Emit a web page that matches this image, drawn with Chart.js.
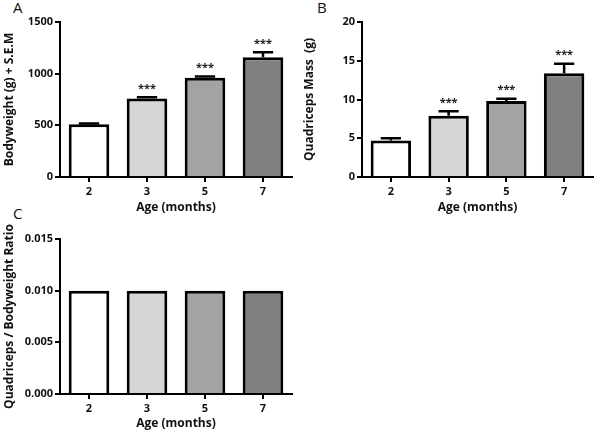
<!DOCTYPE html>
<html>
<head>
<meta charset="utf-8">
<script src="https://cdn.jsdelivr.net/npm/chart.js@4"></script>
<style>
  body { margin: 0; background: #fff; }
  #page { position: relative; width: 600px; height: 431px; overflow: hidden; }
  .panel { position: absolute; }
  .tag { position: absolute; font-family: "Open Sans", sans-serif; font-size: 15px; color: #111; }
</style>
</head>
<body>
<div id="page">
  <div class="tag" style="left:13px;top:-3px">A</div>
  <div class="tag" style="left:317px;top:-3px">B</div>
  <div class="tag" style="left:13px;top:203px">C</div>
  <div class="panel" style="left:0;top:0;width:300px;height:215px"><canvas id="chartA"></canvas></div>
  <div class="panel" style="left:300px;top:0;width:300px;height:215px"><canvas id="chartB"></canvas></div>
  <div class="panel" style="left:0;top:215px;width:300px;height:216px"><canvas id="chartC"></canvas></div>
</div>
<script>
var ages = ["2", "3", "5", "7"];
var bodyweight = [510, 760, 960, 1160];
var bodyweightSem = [8, 12, 12, 48];
var quadMass = [4.7, 7.9, 9.8, 13.4];
var quadMassSem = [0.3, 0.6, 0.3, 1.2];
var ratio = [0.010, 0.010, 0.010, 0.010];
var stars = ["", "***", "***", "***"];
var barColors = ["#ffffff", "#d6d6d6", "#a3a3a3", "#808080"];

var fontFam = "'Open Sans', sans-serif";

/* desenha barras de erro e asteriscos */
var errorBars = {
	id: "errorBars",
	afterDatasetsDraw: function(chart, args, opts) {
		if (!opts.sem) return;
		var ctx = chart.ctx;
		var meta = chart.getDatasetMeta(0);
		var yScale = chart.scales.y;
		var values = chart.data.datasets[0].data;
		ctx.save();
		meta.data.forEach(function(bar, i) {
			var top = yScale.getPixelForValue(values[i] + opts.sem[i]);
			var cap = bar.width / 4;
			ctx.strokeStyle = "#000";
			ctx.lineWidth = 2.5;
			ctx.beginPath();
			ctx.moveTo(bar.x, bar.y);
			ctx.lineTo(bar.x, top);
			ctx.moveTo(bar.x - cap, top);
			ctx.lineTo(bar.x + cap, top);
			ctx.stroke();
			if (opts.stars && opts.stars[i]) {
				ctx.fillStyle = "#222";
				ctx.font = "bold 11px " + fontFam;
				ctx.textAlign = "center";
				ctx.textBaseline = "bottom";
				ctx.fillText(opts.stars[i], bar.x, top - 3);
			}
		});
		ctx.restore();
	}
};

function makeChart(id, values, opts) {
	return new Chart(document.getElementById(id), {
		type: "bar",
		data: {
			labels: ages,
			datasets: [{
				data: values,
				backgroundColor: barColors,
				borderColor: "#000",
				borderWidth: 3,
				barPercentage: 0.7,
				categoryPercentage: 1
			}]
		},
		options: {
			responsive: true,
			maintainAspectRatio: false,
			animation: false,
			layout: { padding: { left: 0, right: opts.padRight, top: opts.padTop, bottom: 0 } },
			plugins: {
				legend: { display: false },
				tooltip: { enabled: false },
				errorBars: { sem: opts.sem, stars: opts.stars }
			},
			scales: {
				x: {
					afterFit: function(scale) { scale.height = opts.xHeight; },
					grid: { drawOnChartArea: false, offset: false, tickLength: 5, color: "#000", lineWidth: 2 },
					border: { color: "#000", width: 2 },
					ticks: { color: "#111", padding: 3, font: { family: fontFam, size: 11, weight: "bold" } },
					title: { display: true, text: "Age (months)", color: "#111", padding: { top: 0, bottom: 1 },
						font: { family: fontFam, size: 12, weight: "bold", lineHeight: 1 } }
				},
				y: {
					min: 0,
					max: opts.max,
					afterFit: function(scale) { scale.width = opts.yWidth; },
					grid: { drawOnChartArea: false, tickLength: 5, color: "#000", lineWidth: 2 },
					border: { color: "#000", width: 2 },
					ticks: {
						stepSize: opts.step,
						color: "#111",
						padding: 2,
						font: { family: fontFam, size: 11, weight: "bold" },
						callback: opts.fmt
					},
					title: { display: true, text: opts.title, color: "#111", padding: { top: 2, bottom: 0 },
						font: { family: fontFam, size: 12, weight: "bold" } }
				}
			}
		},
		plugins: [errorBars]
	});
}

makeChart("chartA", bodyweight, {
	max: 1500, step: 500, title: "Bodyweight (g) + S.E.M",
	sem: bodyweightSem, stars: stars,
	yWidth: 60, xHeight: 38, padTop: 22, padRight: 8,
	fmt: function(v) { return v; }
});

makeChart("chartB", quadMass, {
	max: 20, step: 5, title: "Quadriceps Mass  (g)",
	sem: quadMassSem, stars: stars,
	yWidth: 62, xHeight: 38, padTop: 22, padRight: 7,
	fmt: function(v) { return v; }
});

makeChart("chartC", ratio, {
	max: 0.015, step: 0.005, title: "Quadriceps / Bodyweight Ratio",
	sem: null, stars: null,
	yWidth: 60, xHeight: 37, padTop: 24, padRight: 8,
	fmt: function(v) { return v.toFixed(3); }
});
</script>
</body>
</html>
